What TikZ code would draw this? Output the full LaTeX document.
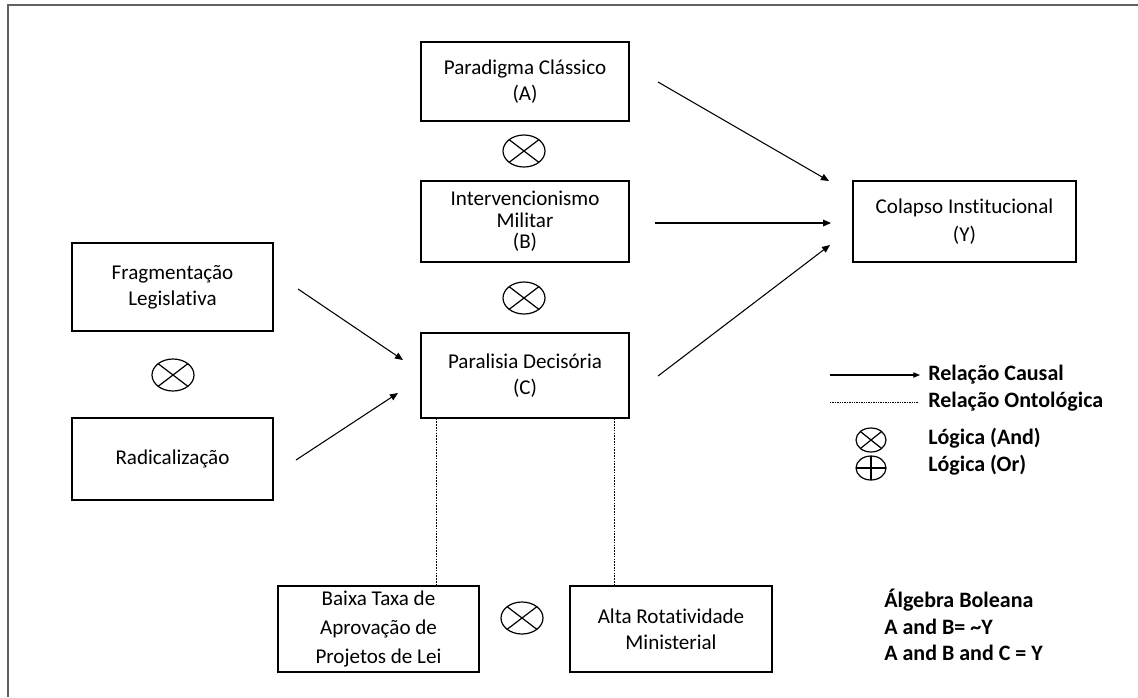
\documentclass[tikz,border=0pt]{standalone}
\usepackage{fontspec}
\setmainfont{Carlito}[Ligatures=CommonOff]
\usetikzlibrary{arrows.meta,shapes.geometric}
\begin{document}
\begin{tikzpicture}[x=0.75pt,y=-0.75pt,
  box/.style={draw, line width=1pt, inner sep=0pt, align=center,
    font=\fontsize{15.8}{19.5}\selectfont},
  tight/.style={font=\fontsize{15.8}{16.2}\selectfont},
  loose/.style={font=\fontsize{15.8}{21.4}\selectfont},
  andop/.style={draw, ellipse, line width=0.9pt, inner sep=0pt,
    minimum width=31.5pt, minimum height=24pt,
    path picture={\draw[line width=0.9pt]
      (path picture bounding box.north west) -- (path picture bounding box.south east)
      (path picture bounding box.north east) -- (path picture bounding box.south west);}},
  orop/.style={draw, ellipse, line width=0.9pt, inner sep=0pt,
    minimum width=22.5pt, minimum height=18pt,
    path picture={\draw[line width=0.9pt]
      (path picture bounding box.north) -- (path picture bounding box.south)
      (path picture bounding box.west) -- (path picture bounding box.east);}},
  causal/.style={line width=0.8pt, -{Triangle[length=6pt,width=5pt]}},
  onto/.style={line width=0.8pt, dash pattern=on 1.2pt off 0.9pt},
  leg/.style={anchor=west, inner sep=0pt, font=\fontsize{16.5}{20}\selectfont\bfseries}
]
\useasboundingbox (0,0) rectangle (1138,697);
% frame
\draw[line width=1.5pt, color=black!62] (1138,4.7) -- (8,4.7) -- (8,697);

% boxes
\node[box, minimum width=156pt, minimum height=59.25pt] (A) at (525,81.5) {Paradigma Clássico\\(A)};
\node[box, tight, minimum width=156pt, minimum height=60.75pt] (B) at (525,221.5) {Intervencionismo\\Militar\\(B)};
\node[box, minimum width=156pt, minimum height=63.75pt] (C) at (525,375.5) {Paralisia Decisória\\(C)};
\node[box, loose, minimum width=167.25pt, minimum height=60.75pt] (Y) at (964.5,221.5) {Colapso Institucional\\(Y)};
\node[box, minimum width=150.75pt, minimum height=66pt] (F) at (172.5,287) {Fragmentação\\Legislativa};
\node[box, minimum width=150.75pt, minimum height=61.5pt] (R) at (172.5,459) {Radicalização};
\node[box, loose, minimum width=150.75pt, minimum height=64.5pt] (T) at (378.5,629) {Baixa Taxa de\\Aprovação de\\Projetos de Lei};
\node[box, minimum width=151.5pt, minimum height=64.5pt] (M) at (671,629) {Alta Rotatividade\\Ministerial};

% logic operators
\node[andop] (and1) at (524,151) {};
\node[andop] (and2) at (524,298) {};
\node[andop] (and3) at (173,375) {};
\node[andop] (and4) at (522,618) {};

% causal arrows
\coordinate (a1) at (658,82);  \coordinate (a2) at (829,181);
\coordinate (b1) at (655,223); \coordinate (b2) at (831,223);
\coordinate (c1) at (658,376); \coordinate (c2) at (830,245);
\coordinate (f1) at (298,289); \coordinate (f2) at (403,360);
\coordinate (r1) at (296,460); \coordinate (r2) at (398,393);
\draw[causal] (a1) -- (a2);
\draw[causal] (b1) -- (b2);
\draw[causal] (c1) -- (c2);
\draw[causal] (f1) -- (f2);
\draw[causal] (r1) -- (r2);

% ontological relations
\draw[onto] ([xshift=12pt]C.south west) -- ([xshift=12pt]C.south west |- T.north);
\draw[onto] ([xshift=-11.25pt]C.south east) -- ([xshift=-11.25pt]C.south east |- M.north);

% legend
\coordinate (l1) at (830,375); \coordinate (l2) at (920,375);
\coordinate (l3) at (830,402); \coordinate (l4) at (918,402);
\draw[line width=0.8pt, -{Triangle[length=5pt,width=4pt]}] (l1) -- (l2);
\draw[line width=0.6pt, dash pattern=on 1pt off 0.8pt] (l3) -- (l4);
\node[leg] (lt1) at (928,375) {Relação Causal};
\node[leg] (lt2) at (928,402) {Relação Ontológica};
\node[andop, minimum width=22.5pt, minimum height=18pt] (land) at (871,440) {};
\node[orop] (lor) at (871,468) {};
\node[leg] (lt3) at (928,438) {Lógica (And)};
\node[leg] (lt4) at (928,465) {Lógica (Or)};

\node[leg] (g1) at (884,600) {Álgebra Boleana};
\node[leg] (g2) at (884,627) {A and B= \textasciitilde Y};
\node[leg] (g3) at (884,653) {A and B and C = Y};
\end{tikzpicture}
\end{document}
